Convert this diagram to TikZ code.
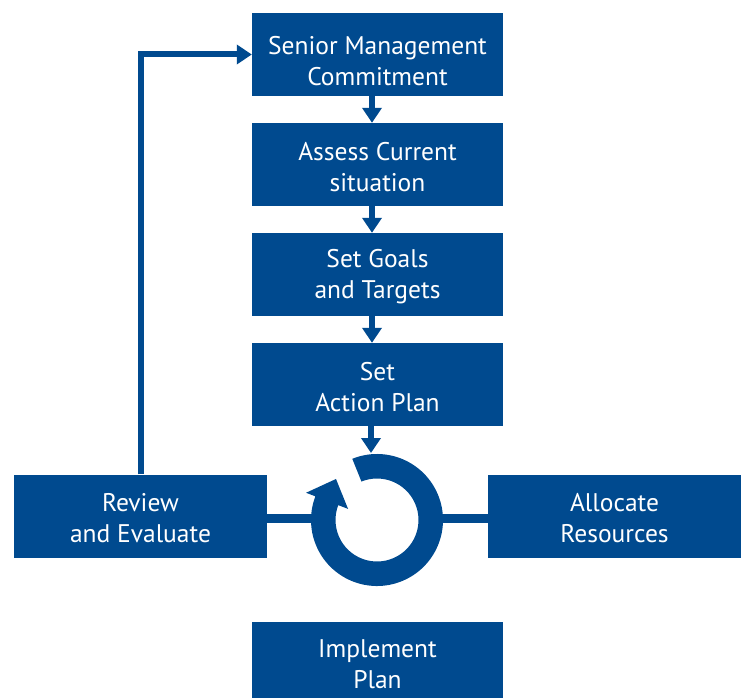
\documentclass[tikz,border=0pt]{standalone}
\usepackage{fontspec}
\setmainfont{PT Sans}
\usetikzlibrary{arrows.meta}
\definecolor{procblue}{RGB}{0,74,143}

\begin{document}
\begin{tikzpicture}[x=1pt, y=1pt,
  stage/.style={fill=procblue, minimum width=251pt, minimum height=83pt, inner sep=0pt},
  caption/.style={text=white, align=center, inner sep=0pt, yshift=-2.5pt,
    font=\fontsize{25.5}{31}\selectfont},
  flow/.style={procblue, line width=6pt, -{Triangle[length=15pt, width=19pt]}},
  link/.style={procblue, line width=9pt}]
\useasboundingbox (0,0) rectangle (744,-698);
% process steps
\node[stage, label={[caption, yshift=-4.5pt]center:{Senior Management\\Commitment}}] (commit) at (377.5,-54.5) {};
\node[stage, label={[caption]center:{Assess Current\\situation}}] (assess) at (377.5,-164.5) {};
\node[stage, label={[caption]center:{Set Goals\\and Targets}}] (goals) at (377.5,-274.5) {};
\node[stage, label={[caption]center:{Set\\Action Plan}}] (plan) at (377.5,-384.5) {};
\node[stage, minimum width=253pt, label={[caption]center:{Review\\and Evaluate}}] (review) at (140.5,-516) {};
\node[stage, minimum width=253pt, label={[caption]center:{Allocate\\Resources}}] (allocate) at (614.5,-516) {};
\node[stage, label={[caption, yshift=1.5pt]center:{Implement\\Plan}}] (implement) at (377.5,-663.5) {};
% cycle ring
\coordinate (hub) at (377,-520);
\coordinate (ringN) at (371,-453);
\coordinate (ringW) at (312,-518);
\coordinate (ringE) at (442,-518);
\fill[procblue, shift={(hub)}] (112:66) arc[start angle=112, end angle=-201, radius=66]
  -- (159:76) -- (135:58) -- (159:31) -- (159:41.5)
  arc[start angle=-201, end angle=112, radius=41.5] -- cycle;
% connectors
\draw[flow] ([xshift=-5.5pt]commit.south) -- ([xshift=-5.5pt]assess.north);
\draw[flow] ([xshift=-5.5pt]assess.south) -- ([xshift=-5.5pt]goals.north);
\draw[flow] ([xshift=-5.5pt]goals.south) -- ([xshift=-5.5pt]plan.north);
\draw[flow] ([xshift=-6.5pt]plan.south) -- (ringN);
\draw[link] ([yshift=-2pt]review.east) -- (ringW);
\draw[link] (ringE) -- ([yshift=-2pt]allocate.west);
\draw[flow] (review.north) |- (commit.west);
\end{tikzpicture}
\end{document}
